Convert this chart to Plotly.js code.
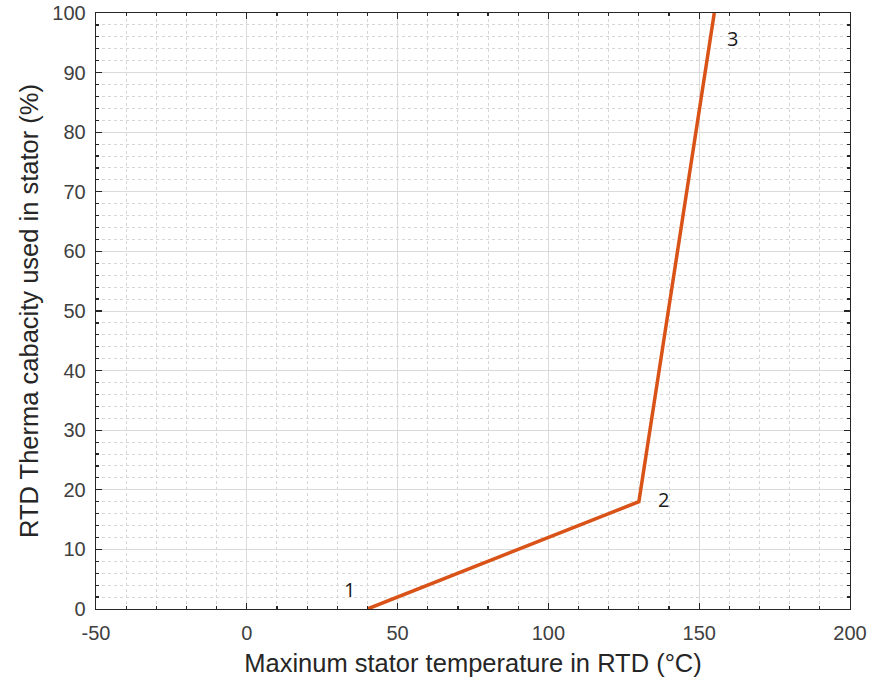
<!DOCTYPE html>
<html>
<head>
<meta charset="utf-8">
<script src="https://cdn.plot.ly/plotly-3.0.1.min.js"></script>
<style>html,body{margin:0;padding:0;background:#fff;}#chart{width:871px;height:686px;}</style>
</head>
<body>
<div id="chart"></div>
<script>
const tempX = [40, 130, 155];
const capacityY = [0, 18, 100];
const pointLabels = ['1', '2', '3'];
const labelX = [34, 138, 161];
const labelY = [3.2, 18.3, 95.8];
const xTickVals = [-50, 0, 50, 100, 150, 200];
const xTickText = ['-50', '0', '50', '100', '150', '200'];
const yTickVals = [0, 10, 20, 30, 40, 50, 60, 70, 80, 90, 100];

const axisColor = '#262626';
const trace = {
  x: tempX, y: capacityY, type: 'scatter', mode: 'lines',
  line: {color: '#D95319', width: 3.5}, hoverinfo: 'skip', cliponaxis: false
};
const annotations = pointLabels.map((t, i) => ({
  x: labelX[i], y: labelY[i], xref: 'x', yref: 'y', text: t, showarrow: false,
  font: {family: 'Open Sans, DejaVu Sans, sans-serif', size: 20, color: '#1a1a1a'}
}));
const common = {
  showline: true, linecolor: axisColor, linewidth: 1.3, mirror: 'ticks',
  ticks: 'inside', ticklen: 6, tickwidth: 1.2, tickcolor: axisColor,
  showgrid: true, gridcolor: '#dadada', gridwidth: 1,
  zeroline: false,
  tickfont: {family: 'Liberation Sans, Arial, sans-serif', size: 20, color: '#404040'},
  title: {font: {family: 'Liberation Sans, Arial, sans-serif', size: 25.5, color: '#262626'}}
};
const layout = {
  width: 871, height: 686,
  margin: {l: 96, r: 21, t: 13, b: 77},
  paper_bgcolor: '#fff', plot_bgcolor: '#fff',
  showlegend: false,
  xaxis: Object.assign({}, common, {
    range: [-50, 200], tickmode: 'array', tickvals: xTickVals, ticktext: xTickText,
    ticklabelstandoff: 6,
    minor: {dtick: 10, tick0: 0, showgrid: true, gridcolor: '#d6d6d6', griddash: 'dot', gridwidth: 1,
            ticks: 'inside', ticklen: 3, tickcolor: axisColor},
    title: Object.assign({}, common.title, {text: 'Maxinum stator temperature in RTD (°C)', standoff: 11})
  }),
  yaxis: Object.assign({}, common, {
    range: [0, 100], tickmode: 'array', tickvals: yTickVals,
    ticklabelstandoff: 5,
    minor: {dtick: 2, tick0: 0, showgrid: true, gridcolor: '#d6d6d6', griddash: 'dot', gridwidth: 1,
            ticks: 'inside', ticklen: 3, tickcolor: axisColor},
    title: Object.assign({}, common.title, {text: 'RTD Therma cabacity used in stator (%)', standoff: 6})
  }),
  annotations: annotations
};
Plotly.newPlot('chart', [trace], layout, {displayModeBar: false, staticPlot: true});
</script>
</body>
</html>
